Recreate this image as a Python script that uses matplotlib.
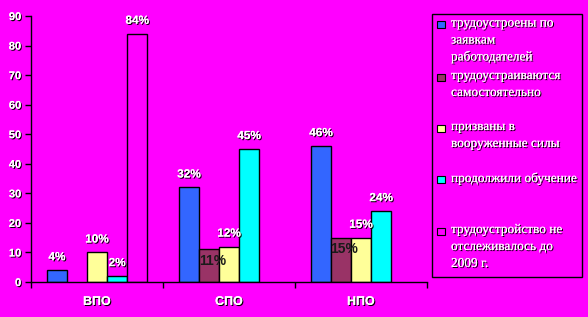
#!/usr/bin/env python3
# -*- coding: utf-8 -*-
"""
Graduate employment by education level (bar chart).
"""

# %% Import
import numpy as np
import matplotlib as mpl
from matplotlib import pyplot as plt
from matplotlib import patheffects as pe
from matplotlib.patches import Rectangle

mpl.use('Agg')

# %% Data
categories = ['ВПО', 'СПО', 'НПО']
series_labels = ['трудоустроены по\nзаявкам\nработодателей',
                 'трудоустраиваются\nсамостоятельно',
                 'призваны в\nвооруженные силы',
                 'продолжили обучение',
                 'трудоустройство не\nотслеживалось до\n2009 г.']
employer = [4, 32, 46]
self_employed = [0, 11, 15]
army = [10, 12, 15]
study = [2, 45, 24]
not_tracked = [84, 0, 0]
yticks = [0, 10, 20, 30, 40, 50, 60, 70, 80, 90]

series = [employer, self_employed, army, study, not_tracked]
colors = ['#3366FF', '#993366', '#FFFF99', '#00FFFF', '#FF00FF']
bg = '#FF00FF'

# %% Plot
fig = plt.figure(figsize=(5.88, 3.17), dpi=100, facecolor=bg)
ax = fig.add_axes([31/588, 35/317, 396/588, 266/317])
ax.set_facecolor(bg)

shadow = [pe.withSimplePatchShadow(offset=(0.8, -0.8), shadow_rgbFace='k',
                                   alpha=1.0), pe.Normal()]
x = np.arange(len(categories))
w = 0.152
for i, vals in enumerate(series):
    vals = np.array(vals, dtype=float)
    xpos = x + (i - 2) * w
    keep = vals > 0
    ax.bar(xpos[keep], vals[keep], width=w, color=colors[i],
           edgecolor='k', linewidth=1.0, zorder=2)
    for xp, v in zip(xpos[keep], vals[keep]):
        if i == 1:
            # dark label inside brown bar
            ax.annotate(f'{v:.0f}%', (xp, v), xytext=(2.5, -3),
                        textcoords='offset points', ha='center', va='top',
                        fontsize=10, fontweight='bold', color='#1a1a1a',
                        family='Liberation Sans', zorder=5)
        else:
            ax.annotate(f'{v:.0f}%', (xp, v), xytext=(0, 5),
                        textcoords='offset points', ha='center',
                        va='bottom', fontsize=8.5, fontweight='bold',
                        color='white', family='Liberation Sans',
                        path_effects=shadow, zorder=5)

ax.set_xlim(-0.5, 2.5)
ax.set_ylim(0, 90)
ax.set_yticks(yticks)
ax.set_xticks(x)
ax.set_xticklabels(categories)
ax.set_xticks([-0.5, 0.5, 1.5, 2.5], minor=True)
ax.tick_params(axis='x', which='major', length=0, pad=10)
ax.tick_params(axis='x', which='minor', length=4, direction='out',
               width=1)
ax.tick_params(axis='y', length=4, direction='out', width=1, pad=3)
for lab in ax.get_xticklabels() + ax.get_yticklabels():
    lab.set_fontfamily('Liberation Sans')
    lab.set_fontweight('bold')
    lab.set_color('white')
    lab.set_path_effects(shadow)
for lab in ax.get_xticklabels():
    lab.set_fontsize(9)
for lab in ax.get_yticklabels():
    lab.set_fontsize(8)
for s in ['top', 'right']:
    ax.spines[s].set_visible(False)
for s in ['left', 'bottom']:
    ax.spines[s].set_linewidth(1.0)

# %% Legend (drawn by hand to match spacing)
W, H = 588, 317
fig.add_artist(Rectangle((432/W, 1 - 277/H), 150/W, 263/H,
                         transform=fig.transFigure, facecolor=bg,
                         edgecolor='k', linewidth=1.0))
entry_y = [24.5, 77, 128, 180, 231]
for lab, col, yy in zip(series_labels, colors, entry_y):
    fig.add_artist(Rectangle((437/W, 1 - (yy + 3.5)/H), 8/W, 7/H,
                             transform=fig.transFigure, facecolor=col,
                             edgecolor='k', linewidth=0.8))
    fig.text(451/W, 1 - (yy - 7)/H, lab, ha='left', va='top',
             fontsize=9.6, color='white', family='Liberation Serif',
             linespacing=1.55, path_effects=shadow)

# %% Save
fig.savefig('out.png', dpi=100, facecolor=bg)
plt.close()
